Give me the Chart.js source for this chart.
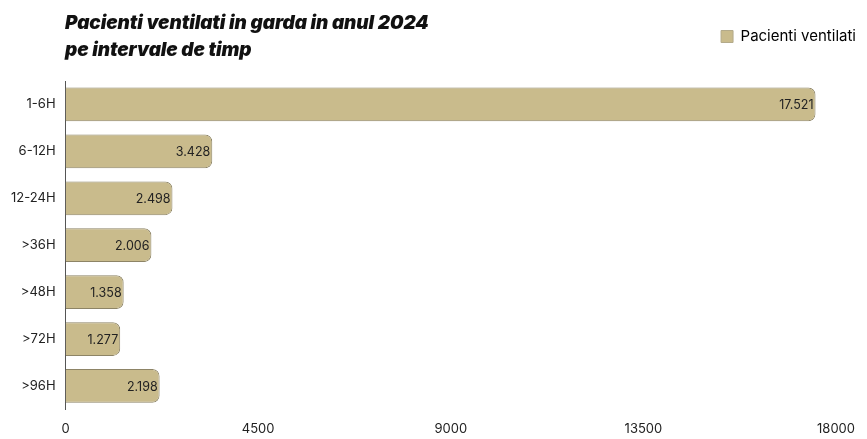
<!DOCTYPE html>
<html>
<head>
<meta charset="utf-8">
<script src="https://cdn.jsdelivr.net/npm/chart.js@4.4.1/dist/chart.umd.min.js"></script>
<style>
  html,body{margin:0;padding:0;background:#fff;}
  #wrap{position:relative;width:867px;height:439px;}
  #title{position:absolute;left:65px;top:9px;margin:0;font-family:Inter,"Open Sans",sans-serif;
    font-style:italic;font-weight:900;font-size:19px;line-height:27px;color:#111;letter-spacing:-0.1px}
  canvas{display:block}
</style>
</head>
<body>
<div id="wrap">
  <h1 id="title">Pacienti ventilati in garda in anul 2024<br>pe intervale de timp</h1>
  <canvas id="chart" width="867" height="439"></canvas>
</div>
<script>
// Data
const categories = ['1-6H','6-12H','12-24H','>36H','>48H','>72H','>96H'];
const values     = [17521, 3428, 2498, 2006, 1358, 1277, 2198];
const xTicks     = [0, 4500, 9000, 13500, 18000];

const fmt = n => String(n).replace(/\B(?=(\d{3})+(?!\d))/g, '.');
const FONT = 'Inter, "Open Sans", sans-serif';

// value labels inside bar ends
const barLabels = {
  id:'barLabels',
  afterDatasetsDraw(chart) {
    const ctx = chart.ctx;
    const meta = chart.getDatasetMeta(0);
    ctx.save();
    ctx.font = '12.5px ' + FONT;
    ctx.fillStyle = '#222';
    ctx.textAlign = 'right';
    ctx.textBaseline = 'middle';
    meta.data.forEach((bar, i) => {
      ctx.fillText(fmt(values[i]), bar.x - 2, bar.y + 1);
    });
    ctx.restore();
  }
};

// extra room under the legend, legend pushed to the right edge
const legendGap = {
  id:'legendGap',
  beforeInit(chart) {
    const fit = chart.legend.fit;
    chart.legend.fit = function() { fit.call(this); this.height += 27; };
  },
  afterLayout(chart) {
    chart.legend.left += 12;
    chart.legend.right += 12;
  }
};

new Chart(document.getElementById('chart'), {
  type:'bar',
  data:{labels:categories,datasets:[{
    label:'Pacienti ventilati',data:values,
    backgroundColor:'#c9bb8c',borderColor:'#8d8466',borderWidth:1,
    borderRadius:{topRight:7,bottomRight:7,topLeft:0,bottomLeft:0},borderSkipped:'left',
    barPercentage:0.72,categoryPercentage:1
  }]},
  options:{
    indexAxis:'y',responsive:false,animation:false,
    layout:{padding:{top:19,right:13,left:1,bottom:-10}},
    plugins:{
      legend:{position:'top',align:'end',
        labels:{boxWidth:12,boxHeight:12,padding:10,color:'#222',
          font:{family:FONT,size:15},
          generateLabels:chart=>[{text:'Pacienti ventilati',fillStyle:'#c9bb8c',strokeStyle:'#b3aa8a',lineWidth:1,datasetIndex:0}]},
      },
      tooltip:{enabled:false},
      title:{display:false}
    },
    scales:{
      x:{min:0,max:18000,
        afterBuildTicks:ax=>{ax.ticks = xTicks.map(v=>({value:v}));},
        grid:{display:false,drawTicks:false},border:{display:false},
        ticks:{color:'#222',padding:12,font:{family:FONT,size:13},callback:v=>String(v)}},
      y:{grid:{display:false,drawTicks:false},border:{display:true,color:'#555',width:1},
        ticks:{color:'#222',padding:10,font:{family:FONT,size:13}}}
    }
  },
  plugins:[barLabels, legendGap]
});
</script>
</body>
</html>
